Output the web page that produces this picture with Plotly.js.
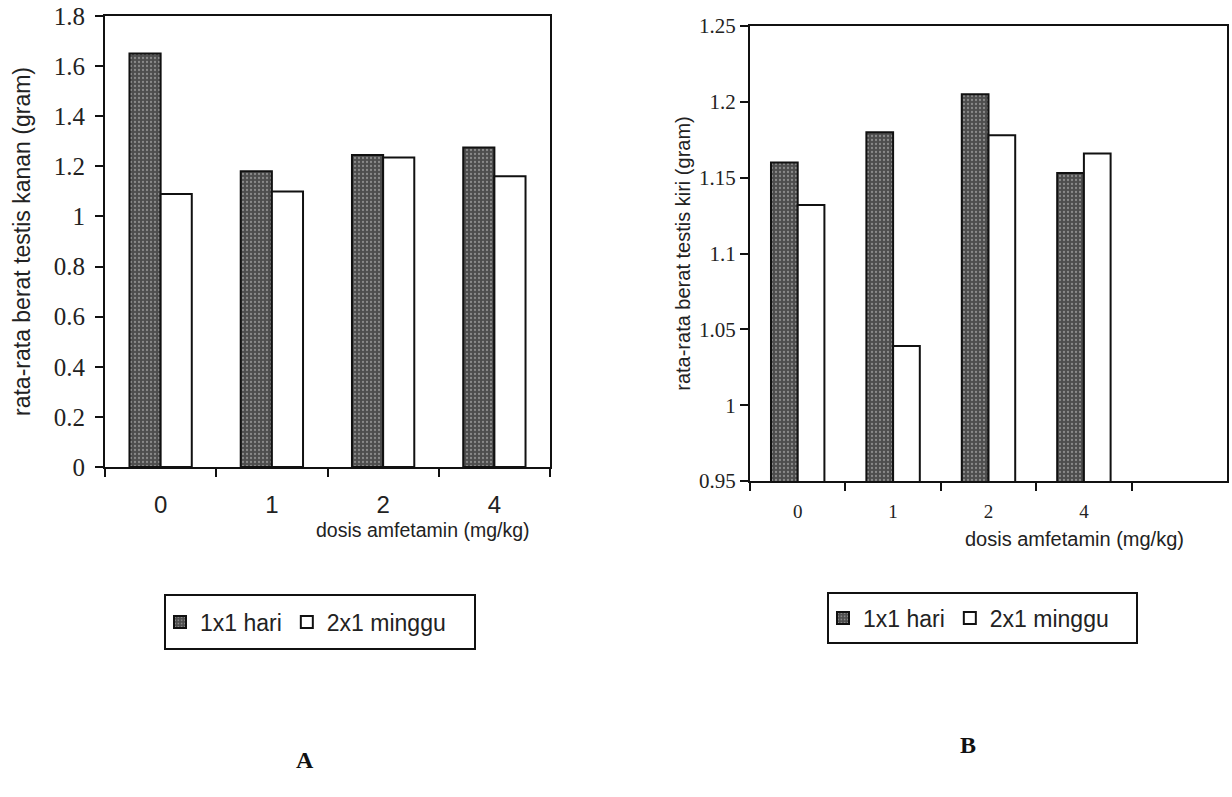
<!DOCTYPE html>
<html>
<head>
<meta charset="utf-8">
<script src="https://cdn.plot.ly/plotly-3.0.1.min.js"></script>
<style>html,body{margin:0;padding:0;background:#fff;}#chart{width:1232px;height:797px;}</style>
</head>
<body>
<div id="chart"></div>
<script>
// Data
const dosisCategories = ['0', '1', '2', '4'];
const seriesNames = ['1x1 hari', '2x1 minggu'];
const kananHarian = [1.65, 1.18, 1.245, 1.275];
const kananMingguan = [1.09, 1.10, 1.235, 1.16];
const kiriHarian = [1.16, 1.18, 1.205, 1.153];
const kiriMingguan = [1.132, 1.039, 1.178, 1.166];
const yTitleA = 'rata-rata berat testis kanan (gram)';
const yTitleB = 'rata-rata berat testis kiri (gram)';
const xTitle = 'dosis amfetamin (mg/kg)';
const panelLabels = ['A', 'B'];

const W = 1232, H = 797;
const px = v => v / W;
const py = v => 1 - v / H;

const darkMarker = {
  color: '#555555',
  line: {color: '#111', width: 2},
  pattern: {shape: '.', fgcolor: '#8a8a8a', bgcolor: '#4d4d4d', size: 4, solidity: 0.25}
};
const whiteMarker = {color: '#ffffff', line: {color: '#111', width: 2}};

const traces = [
  {type: 'bar', x: dosisCategories, y: kananHarian, name: seriesNames[0], marker: darkMarker, xaxis: 'x', yaxis: 'y', legend: 'legend'},
  {type: 'bar', x: dosisCategories, y: kananMingguan, name: seriesNames[1], marker: whiteMarker, xaxis: 'x', yaxis: 'y', legend: 'legend'},
  {type: 'bar', x: dosisCategories, y: kiriHarian, name: seriesNames[0], marker: darkMarker, xaxis: 'x2', yaxis: 'y2', legend: 'legend2'},
  {type: 'bar', x: dosisCategories, y: kiriMingguan, name: seriesNames[1], marker: whiteMarker, xaxis: 'x2', yaxis: 'y2', legend: 'legend2'}
];

const axisCommon = {
  showline: true, linecolor: '#111', linewidth: 2, mirror: true,
  ticks: 'outside', ticklen: 8, tickwidth: 2, tickcolor: '#111',
  showgrid: false, zeroline: false, fixedrange: true
};

const sansFont = 'Liberation Sans, Arial, sans-serif';
const serifFont = 'Liberation Serif, Times New Roman, serif';

const legendCommon = {
  orientation: 'h', xanchor: 'left', yanchor: 'middle',
  borderwidth: 0, bgcolor: 'rgba(0,0,0,0)',
  font: {family: sansFont, size: 23, color: '#222'}, itemwidth: 30, traceorder: 'normal'
};

const layout = {
  width: W, height: H,
  margin: {l: 0, r: 0, t: 0, b: 0},
  paper_bgcolor: '#fff', plot_bgcolor: '#fff',
  barmode: 'group', bargap: 0.44, bargroupgap: 0,
  xaxis: Object.assign({}, axisCommon, {
    domain: [px(105), px(550)], anchor: 'y', type: 'category',
    categoryorder: 'array', categoryarray: dosisCategories,
    range: [-0.5, 3.5], tickson: 'boundaries',
    tickfont: {family: sansFont, size: 24, color: '#222'}, ticklabelstandoff: 15
  }),
  yaxis: Object.assign({}, axisCommon, {
    domain: [py(467), py(16)], anchor: 'x',
    range: [0, 1.8], dtick: 0.2, tick0: 0,
    tickfont: {family: serifFont, size: 25, color: '#222'}, ticklabelstandoff: 5,
    title: {text: yTitleA, font: {family: sansFont, size: 23, color: '#222'}, standoff: 17}
  }),
  xaxis2: Object.assign({}, axisCommon, {
    domain: [px(750), px(1227)], anchor: 'y2', type: 'category',
    categoryorder: 'array', categoryarray: dosisCategories,
    range: [-0.5, 4.5], tickson: 'boundaries',
    tickfont: {family: serifFont, size: 19, color: '#222'}, ticklabelstandoff: 12
  }),
  yaxis2: Object.assign({}, axisCommon, {
    domain: [py(481), py(26)], anchor: 'x2',
    range: [0.95, 1.25], dtick: 0.05, tick0: 0.95,
    tickfont: {family: serifFont, size: 21, color: '#222'},
    title: {text: yTitleB, font: {family: sansFont, size: 20, color: '#222'}, standoff: 3}
  }),
  legend: Object.assign({}, legendCommon, {x: px(160), y: py(622)}),
  legend2: Object.assign({}, legendCommon, {x: px(823), y: py(618)}),
  shapes: [
    {type: 'rect', xref: 'paper', yref: 'paper', x0: px(165), x1: px(475), y0: py(649), y1: py(595),
     line: {color: '#111', width: 2}, fillcolor: 'rgba(0,0,0,0)', layer: 'below'},
    {type: 'rect', xref: 'paper', yref: 'paper', x0: px(828), x1: px(1137), y0: py(643), y1: py(593),
     line: {color: '#111', width: 2}, fillcolor: 'rgba(0,0,0,0)', layer: 'below'}
  ],
  annotations: [
    {text: xTitle, xref: 'paper', yref: 'paper', x: px(422), y: py(530), xanchor: 'center', yanchor: 'middle', showarrow: false,
     font: {family: sansFont, size: 19.5, color: '#222'}},
    {text: xTitle, xref: 'paper', yref: 'paper', x: px(1074), y: py(539), xanchor: 'center', yanchor: 'middle', showarrow: false,
     font: {family: sansFont, size: 20, color: '#222'}},
    {text: '<b>' + panelLabels[0] + '</b>', xref: 'paper', yref: 'paper', x: px(305), y: py(760), xanchor: 'center', yanchor: 'middle', showarrow: false,
     font: {family: serifFont, size: 24, color: '#111'}},
    {text: '<b>' + panelLabels[1] + '</b>', xref: 'paper', yref: 'paper', x: px(968), y: py(745), xanchor: 'center', yanchor: 'middle', showarrow: false,
     font: {family: serifFont, size: 24, color: '#111'}}
  ],
  showlegend: true
};

Plotly.newPlot('chart', traces, layout, {displayModeBar: false, staticPlot: true});
</script>
</body>
</html>
